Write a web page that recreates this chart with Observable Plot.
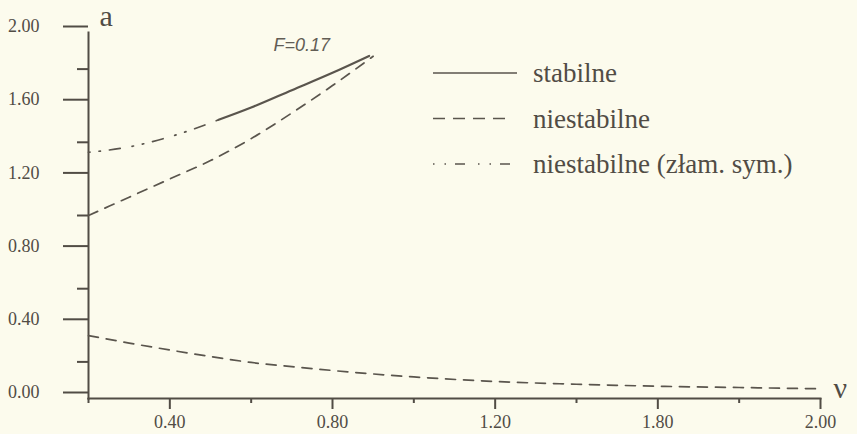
<!DOCTYPE html>
<html>
<head>
<meta charset="utf-8">
<script src="https://cdn.jsdelivr.net/npm/d3@7"></script>
<script src="https://cdn.jsdelivr.net/npm/@observablehq/plot@0.6"></script>
<style>
  html, body { margin: 0; padding: 0; background: #fcfbed; }
  #wrap { position: relative; width: 857px; height: 434px; background: #fcfbed; overflow: hidden; }
  #legend { position: absolute; left: 420px; top: 40px; }
  #wrap g[aria-label="y-axis tick label"],
  #wrap g[aria-label="x-axis tick label"],
  #wrap g[aria-label="y-axis tick label"] text,
  #wrap g[aria-label="x-axis tick label"] text {
    font-family: 'Liberation Serif', 'DejaVu Serif', serif !important;
    font-size: 18px !important;
  }
</style>
</head>
<body>
<div id="wrap"></div>
<script>
// ---- tick values and labels ----
const nuTicks = [0.4, 0.8, 1.2, 1.6, 2.0];
const nuTickLabels = ["0.40", "0.80", "1.20", "1.80", "2.00"];
const nuMinorTicks = [0.2, 0.6, 1.0, 1.4, 1.8];
const aTicks = [0, 0.4, 0.8, 1.2, 1.6, 2.0];
const aTickLabels = ["0.00", "0.40", "0.80", "1.20", "1.60", "2.00"];
const aMinorTicks = [0.2, 0.6, 1.0, 1.4, 1.8];

// ---- series ----
const stableNu = [0.52, 0.6, 0.7, 0.8, 0.89];
const stableA  = [1.523, 1.59, 1.685, 1.78, 1.872];

const unstableUpperNu = [0.2, 0.3, 0.4, 0.5, 0.6, 0.7, 0.8, 0.9];
const unstableUpperA  = [1.00, 1.10, 1.20, 1.30, 1.42, 1.56, 1.71, 1.87];

const unstableLowerNu = [0.2, 0.3, 0.4, 0.5, 0.6, 0.7, 0.8, 0.9, 1.0, 1.2, 1.4, 1.6, 1.8, 2.0];
const unstableLowerA  = [0.344, 0.303, 0.265, 0.229, 0.197, 0.174, 0.153, 0.134, 0.118, 0.093, 0.078, 0.067, 0.060, 0.053];

const symBreakNu = [0.2, 0.3, 0.4, 0.52];
const symBreakA  = [1.345, 1.375, 1.43, 1.523];

const annotation = ["F=0.17"];
const xLabel = ["ν"];
const yLabel = ["a"];

const legendItems = ["stabilne", "niestabilne", "niestabilne (złam. sym.)"];
const legendDash = ["none", "12,8", "1.5,10,1.5,9,10,13"];

const ink = "#514c45";
const lineInk = "#5a554d";
const serif = "'Liberation Serif', 'DejaVu Serif', serif";
const dashed = "10,8";
const dashDotDot = "1.5,9,1.5,9,11,12";

const toRows = (xs, ys) => xs.map((x, i) => ({nu: x, a: ys[i]}));

const chart = Plot.plot({
  width: 857,
  height: 434,
  marginLeft: 88,
  marginRight: 37,
  marginTop: 32,
  marginBottom: 36,
  style: {background: "transparent", fontFamily: serif, fontSize: "18px", color: ink},
  x: {domain: [0.2, 2.0]},
  y: {domain: [0, 2]},
  marks: [
    Plot.frame({anchor: "left", stroke: ink, strokeWidth: 2}),
    Plot.frame({anchor: "bottom", stroke: ink, strokeWidth: 2}),
    Plot.axisY(aTicks, {
      anchor: "left", tickSize: 25, tickPadding: 24, strokeWidth: 2, stroke: ink, fill: ink,
      fontSize: 18, fontFamily: serif, dy: -6, label: null,
      tickFormat: d => aTickLabels[aTicks.indexOf(d)]
    }),
    Plot.axisY(aMinorTicks, {
      anchor: "left", tickSize: 11, strokeWidth: 2, stroke: ink, label: null,
      tickFormat: () => ""
    }),
    Plot.axisX(nuTicks, {
      anchor: "bottom", tickSize: 11, tickPadding: 6, strokeWidth: 2, stroke: ink, fill: ink,
      fontSize: 18, fontFamily: serif, label: null,
      tickFormat: d => nuTickLabels[nuTicks.indexOf(d)]
    }),
    Plot.axisX(nuMinorTicks, {
      anchor: "bottom", tickSize: 5, strokeWidth: 2, stroke: ink, label: null,
      tickFormat: () => ""
    }),
    Plot.line(toRows(unstableLowerNu, unstableLowerA), {x: "nu", y: "a", stroke: lineInk, strokeWidth: 1.7, strokeDasharray: dashed, curve: "monotone-x"}),
    Plot.line(toRows(unstableUpperNu, unstableUpperA), {x: "nu", y: "a", stroke: lineInk, strokeWidth: 1.7, strokeDasharray: dashed, curve: "monotone-x"}),
    Plot.line(toRows(symBreakNu, symBreakA), {x: "nu", y: "a", stroke: lineInk, strokeWidth: 1.7, strokeDasharray: dashDotDot, curve: "monotone-x"}),
    Plot.line(toRows(stableNu, stableA), {x: "nu", y: "a", stroke: lineInk, strokeWidth: 2.2, curve: "monotone-x"}),
    Plot.text(yLabel, {frameAnchor: "top-left", dx: 11, dy: -7, textAnchor: "start", lineAnchor: "bottom", fontSize: 30, fontFamily: serif, fill: ink}),
    Plot.text(xLabel, {frameAnchor: "bottom-right", dx: 13, dy: -1, textAnchor: "start", lineAnchor: "bottom", fontSize: 30, fontFamily: serif, fill: ink}),
    Plot.text(annotation, {frameAnchor: "top-left", dx: 185, dy: 18, textAnchor: "start", lineAnchor: "bottom",
      fontSize: 18, fontStyle: "italic", fontFamily: "'Liberation Sans', Arial, sans-serif", fill: "#625d55"})
  ]
});

const wrap = document.getElementById("wrap");
wrap.appendChild(chart);

// ---- legend ----
const ns = "http://www.w3.org/2000/svg";
const leg = document.createElementNS(ns, "svg");
leg.setAttribute("id", "legend");
leg.setAttribute("width", 420);
leg.setAttribute("height", 150);
legendItems.forEach((name, i) => {
  const y = 33 + i * 45.5;
  const ln = document.createElementNS(ns, "line");
  ln.setAttribute("x1", 13);
  ln.setAttribute("x2", i === 0 ? 97 : 92);
  ln.setAttribute("y1", y);
  ln.setAttribute("y2", y);
  ln.setAttribute("stroke", lineInk);
  ln.setAttribute("stroke-width", 1.7);
  if (legendDash[i] !== "none") ln.setAttribute("stroke-dasharray", legendDash[i]);
  leg.appendChild(ln);
  const tx = document.createElementNS(ns, "text");
  tx.setAttribute("x", 113);
  tx.setAttribute("y", y + 9);
  tx.setAttribute("font-family", serif);
  tx.setAttribute("font-size", 27);
  tx.setAttribute("fill", ink);
  tx.textContent = name;
  leg.appendChild(tx);
});
wrap.appendChild(leg);
</script>
</body>
</html>
